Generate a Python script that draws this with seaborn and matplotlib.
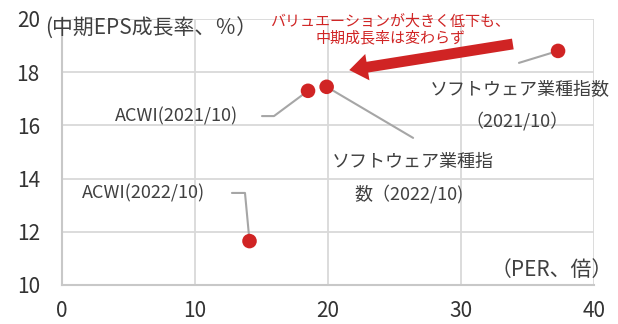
import matplotlib
matplotlib.use("Agg")
import matplotlib.pyplot as plt
import seaborn as sns
import pandas as pd

# PER (x) and mid-term EPS growth (y) for each index/date
names = ["ACWI(2021/10)", "ソフトウェア業種指数(2022/10)", "ソフトウェア業種指数(2021/10)", "ACWI(2022/10)"]
per = [18.5, 19.9, 37.3, 14.1]
eps_growth = [17.3, 17.45, 18.8, 11.65]

x_ticks = [0, 10, 20, 30, 40]
y_ticks = [10, 12, 14, 16, 18, 20]

df = pd.DataFrame({"name": names, "per": per, "eps": eps_growth})

sns.set_theme(style="white")
plt.rcParams["font.family"] = ["Noto Sans CJK JP", "DejaVu Sans"]

TEXT = "#404040"
RED = "#d02424"
GRID = "#d9d9d9"
LEADER = "#a6a6a6"

fig = plt.figure(figsize=(6.18, 3.24), dpi=100)
ax = fig.add_axes([0.1003, 0.1204, 0.8608, 0.8210])

sns.scatterplot(data=df, x="per", y="eps", ax=ax, color=RED, s=110,
                edgecolor="none", zorder=5, legend=False)

ax.set_xlim(0, 40)
ax.set_ylim(10, 20)
ax.set_xticks(x_ticks)
ax.set_yticks(y_ticks)
ax.grid(True, color=GRID, linewidth=1.3)
ax.set_axisbelow(True)
for side in ["top", "right"]:
    ax.spines[side].set_visible(False)
for side in ["left", "bottom"]:
    ax.spines[side].set_color("#c8c8c8")
    ax.spines[side].set_linewidth(1.5)
ax.tick_params(axis="both", length=0, labelsize=15, colors="#333333")
ax.tick_params(axis="y", pad=16)
ax.tick_params(axis="x", pad=11)
ax.set_xlabel("")
ax.set_ylabel("")

# axis captions
ax.text(-1.3, 19.62, "(中期EPS成長率、％）", fontsize=15, color=TEXT,
        ha="left", va="center", zorder=6, clip_on=False)
ax.text(41.4, 10.56, "（PER、倍）", fontsize=15, color=TEXT,
        ha="right", va="center", zorder=6, clip_on=False)

# point labels with leader lines
lab = dict(fontsize=13, color=TEXT, va="center", zorder=6, clip_on=False)
ax.text(13.25, 16.35, "ACWI(2021/10)", ha="right", **lab)
ax.plot([15.04, 15.94, per[0]], [16.35, 16.35, eps_growth[0]], color=LEADER, lw=1.5, zorder=4)

ax.text(26.4, 14.62, "ソフトウェア業種指", ha="center", **lab)
ax.text(26.1, 13.42, "数（2022/10)", ha="center", **lab)
ax.plot([per[1], 26.4], [eps_growth[1], 15.53], color=LEADER, lw=1.5, zorder=4)

ax.text(34.4, 17.37, "ソフトウェア業種指数", ha="center", **lab)
ax.text(34.2, 16.17, "（2021/10）", ha="center", **lab)
ax.plot([34.36, per[2]], [18.35, eps_growth[2]], color=LEADER, lw=1.5, zorder=4)

ax.text(10.75, 13.46, "ACWI(2022/10)", ha="right", **lab)
ax.plot([12.78, 13.76, per[3]], [13.46, 13.46, eps_growth[3]], color=LEADER, lw=1.5, zorder=4)

# red callout with arrow
ax.text(24.7, 19.6, "バリュエーションが大きく低下も、\n中期成長率は変わらず",
        fontsize=10.8, color=RED, ha="center", va="center", linespacing=1.2, zorder=6)
ax.annotate("", xy=(21.6, 18.08), xytext=(33.9, 19.06),
            arrowprops=dict(arrowstyle="simple,head_width=1.6,head_length=1.1,tail_width=0.65",
                            color=RED, lw=0, shrinkA=0, shrinkB=0),
            zorder=6)

fig.savefig("out.png", dpi=100)
